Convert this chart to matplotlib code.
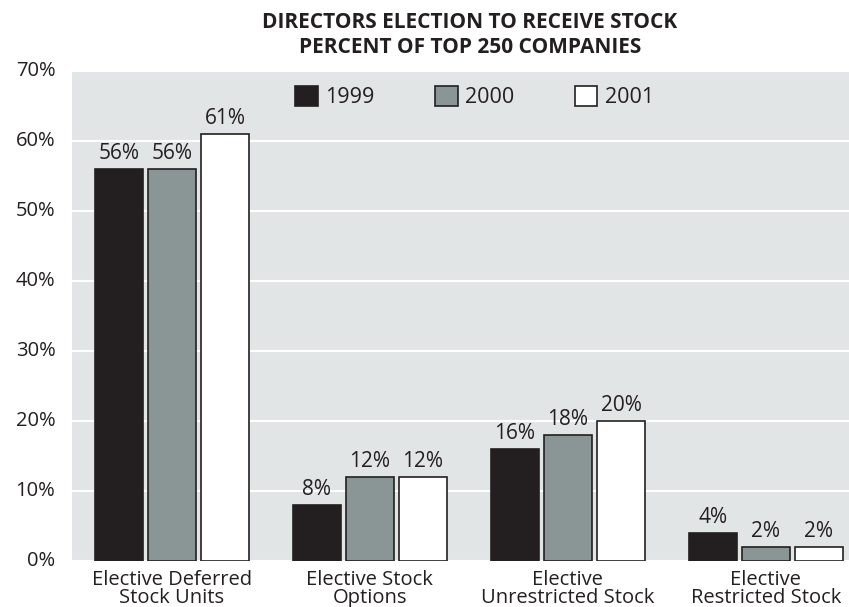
import numpy as np
import matplotlib
matplotlib.use('Agg')
import matplotlib.pyplot as plt
import matplotlib.transforms as mtransforms

categories = ['Elective Deferred\nStock Units', 'Elective Stock\nOptions',
              'Elective\nUnrestricted Stock', 'Elective\nRestricted Stock']
years = ['1999', '2000', '2001']
v1999 = [56, 8, 16, 4]
v2000 = [56, 12, 18, 2]
v2001 = [61, 12, 20, 2]
series = [v1999, v2000, v2001]
colors = ['#231f20', '#8a9695', '#ffffff']

plt.rcParams['font.family'] = ['Open Sans', 'DejaVu Sans']
txtc = '#231f20'

fig = plt.figure(figsize=(8.49, 6.07), dpi=100)
ax = fig.add_axes([72/849, 1-561/607, 1-72/849, (561-71)/607])
ax.set_facecolor('#e1e5e6')

x = np.arange(len(categories))
w = 0.242
step = 0.268
for i, (vals, c, yr) in enumerate(zip(series, colors, years)):
    pos = x + (i-1)*step
    ax.bar(pos, vals, w, color=c, edgecolor='#231f20', linewidth=1.2,
           label=yr, zorder=3)
    for p, v in zip(pos, vals):
        ax.text(p, v+0.7, str(v)+'%', ha='center', va='bottom',
                fontsize=15, color=txtc)

ax.set_ylim(0, 70)
ax.set_xlim(-0.505, 3.42)
ax.set_yticks(np.arange(0, 71, 10))
ax.set_yticklabels([str(t)+'%' for t in range(0, 71, 10)], fontsize=14.5, color=txtc)
ax.set_xticks(x)
ax.set_xticklabels(categories, fontsize=14.5, color=txtc, linespacing=0.88)
ax.tick_params(length=0, pad=6.5)
ax.tick_params(axis='y', pad=12)
off = mtransforms.ScaledTranslation(0, 3/100, fig.dpi_scale_trans)
for lab in ax.get_yticklabels():
    lab.set_transform(lab.get_transform() + off)
ax.grid(axis='y', color='white', linewidth=1.5, zorder=0)
for s in ax.spines.values():
    s.set_visible(False)

leg = ax.legend(loc='center', bbox_to_anchor=(0.518, 1-26/490), ncol=3,
                frameon=False, fontsize=15.5, handlelength=1.05, handleheight=1.05,
                handletextpad=0.35, columnspacing=2.8)
for t in leg.get_texts():
    t.set_color(txtc)

fig.text(470/849, 1-35/607, 'DIRECTORS ELECTION TO RECEIVE STOCK\nPERCENT OF TOP 250 COMPANIES',
         ha='center', va='center', fontsize=15, fontweight='bold', color=txtc,
         family=['Liberation Sans Narrow', 'Open Sans'], linespacing=1.2)
fig.savefig('out.png', dpi=100)
